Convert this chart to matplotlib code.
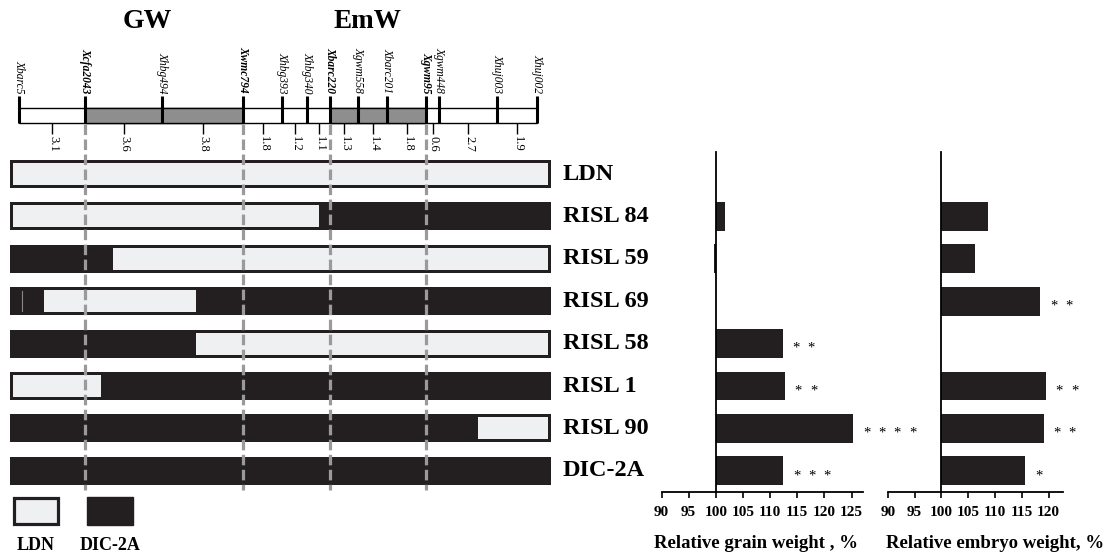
import matplotlib
matplotlib.use('Agg')
import matplotlib.pyplot as plt

plt.rcParams['font.family'] = 'Liberation Serif'

# genetic map of chromosome 2A
markers = ['Xbarc5', 'Xcfa2043', 'Xhbg494', 'Xwmc794', 'Xhbg393', 'Xhbg340', 'Xbarc220',
           'Xgwm558', 'Xbarc201', 'Xgwm95', 'Xgwm448', 'Xhuj003', 'Xhuj002']
marker_pos = [19, 85, 162, 243, 282, 307, 330, 358, 387, 426, 439, 497, 537]
bold_markers = ['Xcfa2043', 'Xwmc794', 'Xbarc220', 'Xgwm95']
distances = ['3.1', '3.6', '3.8', '1.8', '1.2', '1.1', '1.3', '1.4', '1.8', '0.6', '2.7', '1.9']
qtl_names = ['GW', 'EmW']
qtl_spans = [('Xcfa2043', 'Xwmc794'), ('Xbarc220', 'Xgwm95')]

# lines and their graphical genotypes (start, end, L = LDN / D = DIC-2A)
lines = ['LDN', 'RISL 84', 'RISL 59', 'RISL 69', 'RISL 58', 'RISL 1', 'RISL 90', 'DIC-2A']
genotypes = [
    [(10, 551, 'L')],
    [(10, 322, 'L'), (322, 551, 'D')],
    [(10, 110, 'D'), (110, 551, 'L')],
    [(10, 41, 'D'), (41, 199, 'L'), (199, 551, 'D')],
    [(10, 193, 'D'), (193, 551, 'L')],
    [(10, 104, 'L'), (104, 551, 'D')],
    [(10, 475, 'D'), (475, 551, 'L')],
    [(10, 551, 'D')],
]

# relative weights (% of LDN) and number of significance stars
grain = [100, 101.6, 99.7, 100, 112.3, 112.7, 125.3, 112.4]
grain_sig = [0, 0, 0, 0, 2, 2, 4, 3]
embryo = [100, 108.8, 106.3, 118.5, 100, 119.5, 119.1, 115.7]
embryo_sig = [0, 0, 0, 2, 0, 2, 2, 1]

DARK = '#231f20'
LIGHT = '#eff0f2'
GREY = '#9a9a9a'

W, H = 1106, 555
fig = plt.figure(figsize=(W / 100, H / 100), dpi=100)

# overlay axes in pixel units for the map and the graphical genotypes
ax = fig.add_axes([0, 0, 1, 1])
ax.set_xlim(0, W)
ax.set_ylim(H, 0)
ax.axis('off')

row_y0, row_step, bar_h, edge = 174, 42.4, 28, 3
n = len(lines)

# map
map_top, map_bot = 108, 123
ax.add_patch(plt.Rectangle((marker_pos[0], map_top), marker_pos[-1] - marker_pos[0],
                           map_bot - map_top, facecolor='white', edgecolor='black', lw=1))
for (a, b) in qtl_spans:
    xa, xb = marker_pos[markers.index(a)], marker_pos[markers.index(b)]
    ax.add_patch(plt.Rectangle((xa, map_top), xb - xa, map_bot - map_top,
                               facecolor='#8e8e8e', edgecolor='black', lw=1))
ax.vlines(marker_pos, 96, map_bot, color='black', lw=2.2)
for name, x in zip(markers, marker_pos):
    ax.text(x, 93, name, rotation=270, ha='center', va='bottom', fontsize=8.3, style='italic',
            fontweight='bold' if name in bold_markers else 'normal')
mids = [(marker_pos[i] + marker_pos[i + 1]) / 2 for i in range(len(distances))]
ax.vlines(mids, map_bot, 134, color='black', lw=1)
for d, x in zip(distances, mids):
    ax.text(x + 1, 136, d, rotation=270, ha='center', va='top', fontsize=9)

# QTL titles
ax.text(147, 22, qtl_names[0], ha='center', va='center', fontsize=20, fontweight='bold')
ax.text(367, 22, qtl_names[1], ha='center', va='center', fontsize=19.5, fontweight='bold')

# graphical genotypes
for i, (name, segs) in enumerate(zip(lines, genotypes)):
    y = row_y0 + i * row_step
    x0, x1 = segs[0][0], segs[-1][1]
    ax.barh(y, x1 - x0, left=x0, height=bar_h, color=DARK)
    for s, e, g in segs:
        if g == 'L':
            ax.barh(y, e - s - 2 * edge, left=s + edge, height=bar_h - 2 * edge, color=LIGHT)
    ax.text(563, y, name, ha='left', va='center', fontsize=17.5, fontweight='bold')
ax.plot([22, 22], [row_y0 + 3 * row_step - 10, row_y0 + 3 * row_step + 10], color='#888888', lw=0.8)

# dashed lines at the QTL flanking markers
for a, b in qtl_spans:
    for m in (a, b):
        x = marker_pos[markers.index(m)]
        ax.plot([x, x], [map_bot + 1, 490], color=GREY, lw=2.3, linestyle=(0, (3.3, 1.4)))

# legend
ax.add_patch(plt.Rectangle((14, 498), 44, 26, facecolor=LIGHT, edgecolor=DARK, lw=2.3))
ax.add_patch(plt.Rectangle((87, 497), 46, 28, facecolor=DARK, edgecolor=DARK, lw=1))
ax.text(36, 546, 'LDN', ha='center', va='center', fontsize=13, fontweight='bold')
ax.text(110, 546, 'DIC-2A', ha='center', va='center', fontsize=13, fontweight='bold')

# bar charts
top_px, bot_px = 152, 492
ylim = ((bot_px - row_y0) / row_step, -(row_y0 - top_px) / row_step)


def weight_panel(left_px, right_px, xmax, ticks, values, sig, label, label_px):
    bx = fig.add_axes([left_px / W, 1 - bot_px / H, (right_px - left_px) / W, (bot_px - top_px) / H])
    bx.set_facecolor('none')
    rows = list(range(n))
    bx.barh(rows, [v - 100 for v in values], left=100, height=0.68, color=DARK)
    bx.set_xlim(90, xmax)
    bx.set_ylim(*ylim)
    bx.spines['left'].set_position(('data', 100))
    for s in ['top', 'right']:
        bx.spines[s].set_visible(False)
    bx.spines['left'].set_linewidth(1.3)
    bx.spines['bottom'].set_linewidth(1.3)
    bx.set_yticks([])
    bx.set_xticks(ticks)
    bx.tick_params(axis='x', direction='out', length=4, width=1.2, pad=6, labelsize=11)
    for t in bx.get_xticklabels():
        t.set_fontweight('bold')
    for r, (v, k) in enumerate(zip(values, sig)):
        for j in range(k):
            bx.annotate('*', xy=(v, r), xytext=(7 + j * 11, -6), textcoords='offset points',
                        ha='left', va='baseline', fontsize=10.5, annotation_clip=False)
    fig.text(label_px / W, 1 - 543 / H, label, ha='center', va='center',
             fontsize=13.5, fontweight='bold')
    return bx


weight_panel(661.5, 862.5, 127, range(90, 130, 5), grain, grain_sig,
             'Relative grain weight , %', 756)
weight_panel(887.7, 1063, 122.7, range(90, 125, 5), embryo, embryo_sig,
             'Relative embryo weight, %', 995)

fig.savefig('out.png', dpi=100)
